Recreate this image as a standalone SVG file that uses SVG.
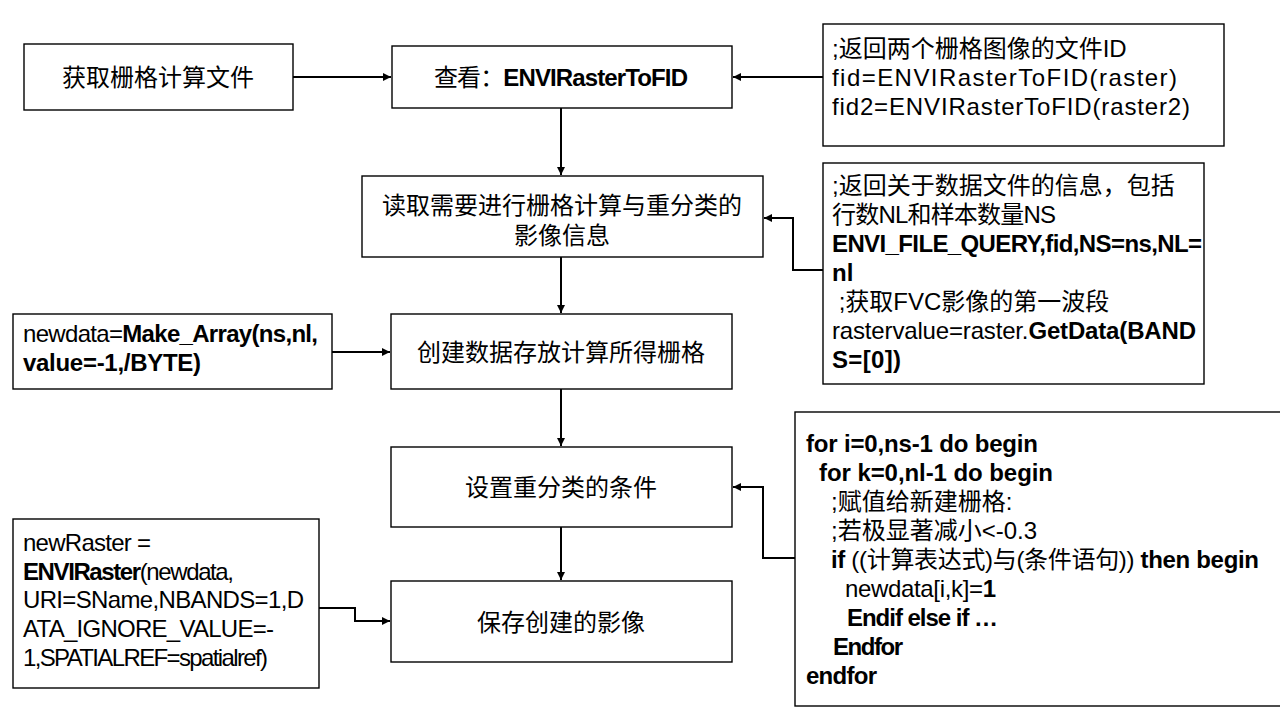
<svg xmlns="http://www.w3.org/2000/svg" width="1280" height="720" viewBox="0 0 1280 720">
<defs>
<marker id="ah" viewBox="0 0 10 10" refX="10" refY="5" markerWidth="8" markerHeight="8" markerUnits="userSpaceOnUse" orient="auto">
<path d="M0,0 L10,5 L0,10 z" fill="#000"/>
</marker>
<style>
.box{fill:#fff;stroke:#000;stroke-width:1.4}
.t{font-family:"Liberation Sans","Noto Sans CJK SC",sans-serif;font-size:24px;fill:#000}
.c{text-anchor:middle}
.b{font-weight:bold}
.con{fill:none;stroke:#000;stroke-width:2;marker-end:url(#ah)}
</style>
</defs>
<rect width="1280" height="720" fill="#fff"/>
<g id="connectors">
<path class="con" d="M293,77 H391"/>
<path class="con" d="M823,77 H733"/>
<path class="con" d="M561,108 V175"/>
<path class="con" d="M823,270 H793 V218 H764"/>
<path class="con" d="M561,257 V313"/>
<path class="con" d="M332,352 H390"/>
<path class="con" d="M561,389 V446"/>
<path class="con" d="M796,558 H763 V487 H733"/>
<path class="con" d="M561,527 V580"/>
<path class="con" d="M319,608 H355 V621 H390"/>
</g>
<g id="n1">
<rect class="box" x="24" y="44" width="269" height="66"/>
<text class="t c" x="158" y="86">获取栅格计算文件</text>
</g>
<g id="n2">
<rect class="box" x="392" y="46" width="340" height="62"/>
<text class="t c" x="561" y="86" textLength="254" lengthAdjust="spacing">查看：<tspan class="b">ENVIRasterToFID</tspan></text>
</g>
<g id="n3">
<rect class="box" x="823" y="24" width="401" height="122"/>
<text class="t" x="832" y="57">;返回两个栅格图像的文件ID</text>
<text class="t" x="832" y="86" textLength="345" lengthAdjust="spacing">fid=ENVIRasterToFID(raster)</text>
<text class="t" x="832" y="115" textLength="358" lengthAdjust="spacing">fid2=ENVIRasterToFID(raster2)</text>
</g>
<g id="n4">
<rect class="box" x="362" y="176" width="401" height="81"/>
<text class="t c" x="562" y="214">读取需要进行栅格计算与重分类的</text>
<text class="t c" x="562" y="244">影像信息</text>
</g>
<g id="n5">
<rect class="box" x="823" y="163" width="381" height="221"/>
<text class="t" x="832" y="194">;返回关于数据文件的信息，包括</text>
<text class="t" x="832" y="223" textLength="224" lengthAdjust="spacing">行数NL和样本数量NS</text>
<text class="t b" x="832" y="252" textLength="370" lengthAdjust="spacing">ENVI_FILE_QUERY,fid,NS=ns,NL=</text>
<text class="t b" x="832" y="281">nl</text>
<text class="t" x="832" y="310" xml:space="preserve"> ;获取FVC影像的第一波段</text>
<text class="t" x="832" y="339" textLength="364" lengthAdjust="spacing">rastervalue=raster.<tspan class="b">GetData(BAND</tspan></text>
<text class="t b" x="832" y="368" textLength="69" lengthAdjust="spacing">S=[0])</text>
</g>
<g id="n6">
<rect class="box" x="13" y="314" width="319" height="75"/>
<text class="t" x="23" y="342" textLength="295" lengthAdjust="spacing">newdata=<tspan class="b">Make_Array(ns,nl,</tspan></text>
<text class="t b" x="23" y="371" textLength="178" lengthAdjust="spacing">value=-1,/BYTE)</text>
</g>
<g id="n7">
<rect class="box" x="391" y="314" width="341" height="75"/>
<text class="t c" x="561" y="361">创建数据存放计算所得栅格</text>
</g>
<g id="n8">
<rect class="box" x="391" y="447" width="341" height="80"/>
<text class="t c" x="561" y="496">设置重分类的条件</text>
</g>
<g id="n9">
<rect class="box" x="795" y="412" width="490" height="294"/>
<text class="t b" x="806" y="452" textLength="232" lengthAdjust="spacing">for i=0,ns-1 do begin</text>
<text class="t b" x="819" y="481" textLength="234" lengthAdjust="spacing">for k=0,nl-1 do begin</text>
<text class="t" x="831" y="510">;赋值给新建栅格:</text>
<text class="t" x="831" y="539">;若极显著减小&lt;-0.3</text>
<text class="t" x="831" y="568" textLength="428" lengthAdjust="spacing"><tspan class="b">if </tspan>((计算表达式)与(条件语句))<tspan class="b"> then begin</tspan></text>
<text class="t" x="845" y="597" textLength="151" lengthAdjust="spacing">newdata[i,k]=<tspan class="b">1</tspan></text>
<text class="t b" x="847" y="626" textLength="151" lengthAdjust="spacing">Endif else if …</text>
<text class="t b" x="833" y="655" textLength="70" lengthAdjust="spacing">Endfor</text>
<text class="t b" x="806" y="684" textLength="71" lengthAdjust="spacing">endfor</text>
</g>
<g id="n10">
<rect class="box" x="391" y="581" width="341" height="81"/>
<text class="t c" x="561" y="631">保存创建的影像</text>
</g>
<g id="n11">
<rect class="box" x="13" y="519" width="306" height="169"/>
<text class="t" x="23" y="551" textLength="128" lengthAdjust="spacing">newRaster =</text>
<text class="t" x="23" y="580" textLength="211" lengthAdjust="spacing"><tspan class="b">ENVIRaster</tspan>(newdata,</text>
<text class="t" x="23" y="608" textLength="281" lengthAdjust="spacing">URI=SName,NBANDS=1,D</text>
<text class="t" x="23" y="637" textLength="251" lengthAdjust="spacing">ATA_IGNORE_VALUE=-</text>
<text class="t" x="23" y="666" textLength="245" lengthAdjust="spacing">1,SPATIALREF=spatialref)</text>
</g>
</svg>
